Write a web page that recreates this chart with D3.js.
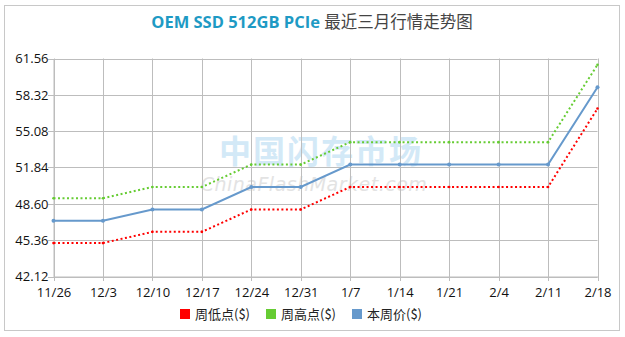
<!DOCTYPE html>
<html><head><meta charset="utf-8">
<script src="https://cdn.jsdelivr.net/npm/d3@7"></script>
<style>
html,body{margin:0;padding:0;background:#fff;}
svg{display:block;font-family:"Open Sans","Noto Sans CJK SC",sans-serif;}
</style></head>
<body><svg id="c" width="625" height="337"></svg>
<script>
const categories = ["11/26","12/3","12/10","12/17","12/24","12/31","1/7","1/14","1/21","2/4","2/11","2/18"];
const lowValues  = [45.1,45.1,46.1,46.1,48.1,48.1,50.1,50.1,50.1,50.1,50.1,57.1];
const highValues = [49.1,49.1,50.1,50.1,52.1,52.1,54.1,54.1,54.1,54.1,54.1,61.0];
const avgValues  = [47.1,47.1,48.1,48.1,50.1,50.1,52.1,52.1,52.1,52.1,52.1,59.0];
const yTicks = [42.12,45.36,48.60,51.84,55.08,58.32,61.56];
const seriesNames = ["周低点($)","周高点($)","本周价($)"];
const seriesColors = ["#ff0000","#66cc33","#6699cc"];

const svg = d3.select("#c");
svg.append("rect").attr("x",4.5).attr("y",5.5).attr("width",615).attr("height",325)
  .attr("fill","#fff").attr("stroke","#c8c8c8").attr("stroke-width",1);

const title = svg.append("text").attr("x",312).attr("y",28).attr("text-anchor","middle")
  .attr("font-size",16.5);
title.append("tspan").attr("fill","#1e9ac4").attr("font-weight","bold")
  .attr("font-family","'Open Sans',sans-serif").text("OEM SSD 512GB PCIe ");
title.append("tspan").attr("fill","#444").attr("font-family","'Noto Sans CJK SC',sans-serif").text("最近三月行情走势图");

const x = d3.scalePoint().domain(categories).range([53.5,597.5]);
const y = d3.scaleLinear().domain([42.12,61.56]).range([276.5,58.5]);

// watermark
svg.append("text").attr("x",321).attr("y",163).attr("text-anchor","middle")
  .attr("font-size",32).attr("font-family","'Noto Sans CJK SC',sans-serif").attr("font-weight","bold")
  .attr("fill","#d3e9f7").attr("letter-spacing",2).text("中国闪存市场");
svg.append("text").attr("x",314).attr("y",191).attr("text-anchor","middle")
  .attr("font-size",19).attr("font-style","italic").attr("font-family","'DejaVu Sans',sans-serif")
  .attr("fill","#e3e3e3").attr("letter-spacing",0.5).text("ChinaFlashMarket.com");

// grid
const g = svg.append("g");
g.selectAll("line.h").data(yTicks).join("line").attr("class","h")
  .attr("x1",48).attr("x2",597.5).attr("y1",d=>Math.round(y(d))+0.5).attr("y2",d=>Math.round(y(d))+0.5)
  .attr("stroke","#bdbdbd");
g.selectAll("line.v").data(categories).join("line").attr("class","v")
  .attr("x1",d=>Math.round(x(d))+0.5).attr("x2",d=>Math.round(x(d))+0.5)
  .attr("y1",58.5).attr("y2",281).attr("stroke","#bdbdbd");

// axes via d3
const yAxis = d3.axisLeft(y).tickValues(yTicks).tickFormat(d3.format(".2f")).tickSize(0).tickPadding(5);
const ya = svg.append("g").attr("transform","translate(53.5,0)").call(yAxis);
ya.select(".domain").attr("stroke","#bdbdbd");
ya.selectAll("text").attr("font-size",13).attr("fill","#111").attr("font-family","'Open Sans',sans-serif");
const xAxis = d3.axisBottom(x).tickSize(0).tickPadding(11);
const xa = svg.append("g").attr("transform","translate(0,276.5)").call(xAxis);
xa.select(".domain").attr("stroke","#bdbdbd");
xa.selectAll("text").attr("font-size",13).attr("fill","#111").attr("font-family","'Open Sans',sans-serif");

const line = d3.line().x((d,i)=>x(categories[i])).y(d=>y(d));
const series = [lowValues, highValues, avgValues];
series.forEach((vals,k)=>{
  svg.append("path").datum(vals).attr("d",line).attr("fill","none")
    .attr("stroke",seriesColors[k]).attr("stroke-width",2)
    .attr("stroke-dasharray",k===2?null:"2,2.5");
  svg.selectAll(null).data(vals).join("circle")
    .attr("cx",(d,i)=>x(categories[i])).attr("cy",d=>y(d)).attr("r",k===2?2:1.3)
    .attr("fill",seriesColors[k]);
});

// legend
const legX = [180,266,352];
seriesNames.forEach((n,k)=>{
  svg.append("rect").attr("x",legX[k]).attr("y",309).attr("width",10).attr("height",10).attr("fill",seriesColors[k]);
  svg.append("text").attr("x",legX[k]+15).attr("y",319).attr("font-size",13)
    .attr("font-family","'Noto Sans CJK SC',sans-serif").attr("fill","#222").text(n);
});
</script></body></html>
